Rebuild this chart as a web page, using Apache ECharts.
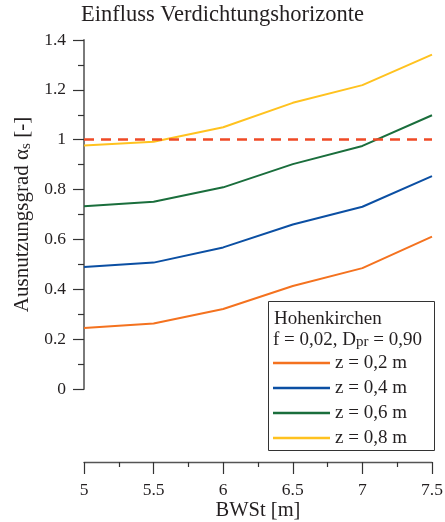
<!DOCTYPE html>
<html>
<head>
<meta charset="utf-8">
<script src="https://cdn.jsdelivr.net/npm/echarts@6/dist/echarts.min.js"></script>
<style>
  html, body { margin: 0; padding: 0; background: #fff; }
  #chart { width: 445px; height: 522px; }
</style>
</head>
<body>
<div id="chart"></div>
<script>
// Bodenwasserstand (BWSt) in m
const bwst = [5, 5.5, 6, 6.5, 7, 7.5];

// Ausnutzungsgrad for each Verdichtungshorizont z
const z02 = [0.245, 0.263, 0.321, 0.413, 0.485, 0.611];
const z04 = [0.489, 0.507, 0.568, 0.660, 0.731, 0.854];
const z06 = [0.733, 0.751, 0.809, 0.902, 0.975, 1.098];
const z08 = [0.977, 0.992, 1.050, 1.148, 1.219, 1.341];

const seriesNames = ['z = 0,2 m', 'z = 0,4 m', 'z = 0,6 m', 'z = 0,8 m'];
const seriesValues = [z02, z04, z06, z08];
const seriesColors = ['#f4721f', '#0b4fa3', '#1a6e3c', '#ffc21f'];

// Grenzwert of the Ausnutzungsgrad
const limitValue = 1;

const FONT = "'Liberation Serif', 'Times New Roman', serif";
const TEXT = '#231f20';

const chart = echarts.init(document.getElementById('chart'), null, { renderer: 'canvas' });

const series = seriesNames.map((name, i) => ({
  name: name,
  type: 'line',
  data: bwst.map((x, j) => [x, seriesValues[i][j]]),
  symbol: 'none',
  smooth: false,
  lineStyle: { color: seriesColors[i], width: 2 },
  itemStyle: { color: seriesColors[i] },
  z: 3
}));

// dashed limit line at Ausnutzungsgrad = 1
series.push({
  name: 'limit',
  type: 'line',
  data: [],
  markLine: {
    silent: true,
    symbol: 'none',
    label: { show: false },
    lineStyle: { color: '#ef4a26', width: 2.5, type: [10, 7] },
    data: [{ yAxis: limitValue }]
  },
  z: 2
});

chart.setOption({
  animation: false,
  backgroundColor: '#fff',
  title: {
    text: 'Einfluss Verdichtungshorizonte',
    left: 'center',
    top: 0,
    padding: [4, 0, 4, 4],
    textStyle: { fontFamily: FONT, fontSize: 22.5, fontWeight: 'normal', color: TEXT }
  },
  grid: { left: 84, right: 13, top: 40, bottom: 133, containLabel: false, outerBoundsMode: 'none' },
  xAxis: {
    type: 'value',
    min: 5, max: 7.5, interval: 0.5,
    offset: 73,
    name: 'BWSt [m]',
    nameLocation: 'middle',
    nameGap: 38,
    nameMoveOverlap: false,
    nameTextStyle: { fontFamily: FONT, fontSize: 20.5, color: TEXT },
    axisLine: { show: true, onZero: false, lineStyle: { color: '#555', width: 1.3 } },
    axisTick: { show: true, length: 12, lineStyle: { color: '#333', width: 1.2 } },
    minorTick: { show: true, splitNumber: 2, length: 5, lineStyle: { color: '#333', width: 1.2 } },
    axisLabel: { fontFamily: FONT, fontSize: 17.5, color: TEXT, margin: 19 },
    splitLine: { show: false }
  },
  yAxis: {
    type: 'value',
    min: 0, max: 1.4, interval: 0.2,
    name: '{a|Ausnutzungsgrad α}{s|s}{a| [-]}',
    nameLocation: 'middle',
    nameGap: 50,
    nameMoveOverlap: false,
    nameTextStyle: {
      fontFamily: FONT, fontSize: 21, color: TEXT,
      rich: {
        a: { fontFamily: FONT, fontSize: 21, color: TEXT, lineHeight: 24 },
        s: { fontFamily: FONT, fontSize: 15, color: TEXT, lineHeight: 24, padding: [8, 0, 0, 0] }
      }
    },
    axisLine: { show: true, lineStyle: { color: '#7a7a7a', width: 2 } },
    axisTick: { show: true, length: 11, lineStyle: { color: '#333', width: 1.2 } },
    minorTick: { show: true, splitNumber: 2, length: 6, lineStyle: { color: '#333', width: 1.2 } },
    axisLabel: { fontFamily: FONT, fontSize: 17.5, color: TEXT, margin: 18 },
    splitLine: { show: false }
  },
  legend: {
    data: seriesNames,
    orient: 'vertical',
    left: 273,
    top: 353.5,
    padding: 0,
    itemWidth: 57,
    itemHeight: 2.5,
    itemGap: 6,
    icon: 'rect',
    z: 20,
    textStyle: { fontFamily: FONT, fontSize: 19, color: TEXT, lineHeight: 19 },
    selectedMode: false
  },
  graphic: [
    {
      type: 'rect',
      shape: { x: 268.5, y: 301.5, width: 166, height: 149 },
      style: { fill: '#fff', stroke: '#333', lineWidth: 1 },
      z: 5
    },
    {
      type: 'text',
      left: 274, top: 310,
      style: { text: 'Hohenkirchen', font: '19px ' + FONT, fill: TEXT },
      z: 6
    },
    {
      type: 'text',
      left: 273, top: 330,
      style: {
        text: '{a|f = 0,02, D}{s|pr}{a| = 0,90}',
        rich: {
          a: { fontFamily: FONT, fontSize: 19, fill: TEXT, color: TEXT, lineHeight: 20 },
          s: { fontFamily: FONT, fontSize: 15, fill: TEXT, color: TEXT, lineHeight: 20, padding: [5, 0, 0, 0] }
        }
      },
      z: 6
    }
  ],
  series: series
});
</script>
</body>
</html>
